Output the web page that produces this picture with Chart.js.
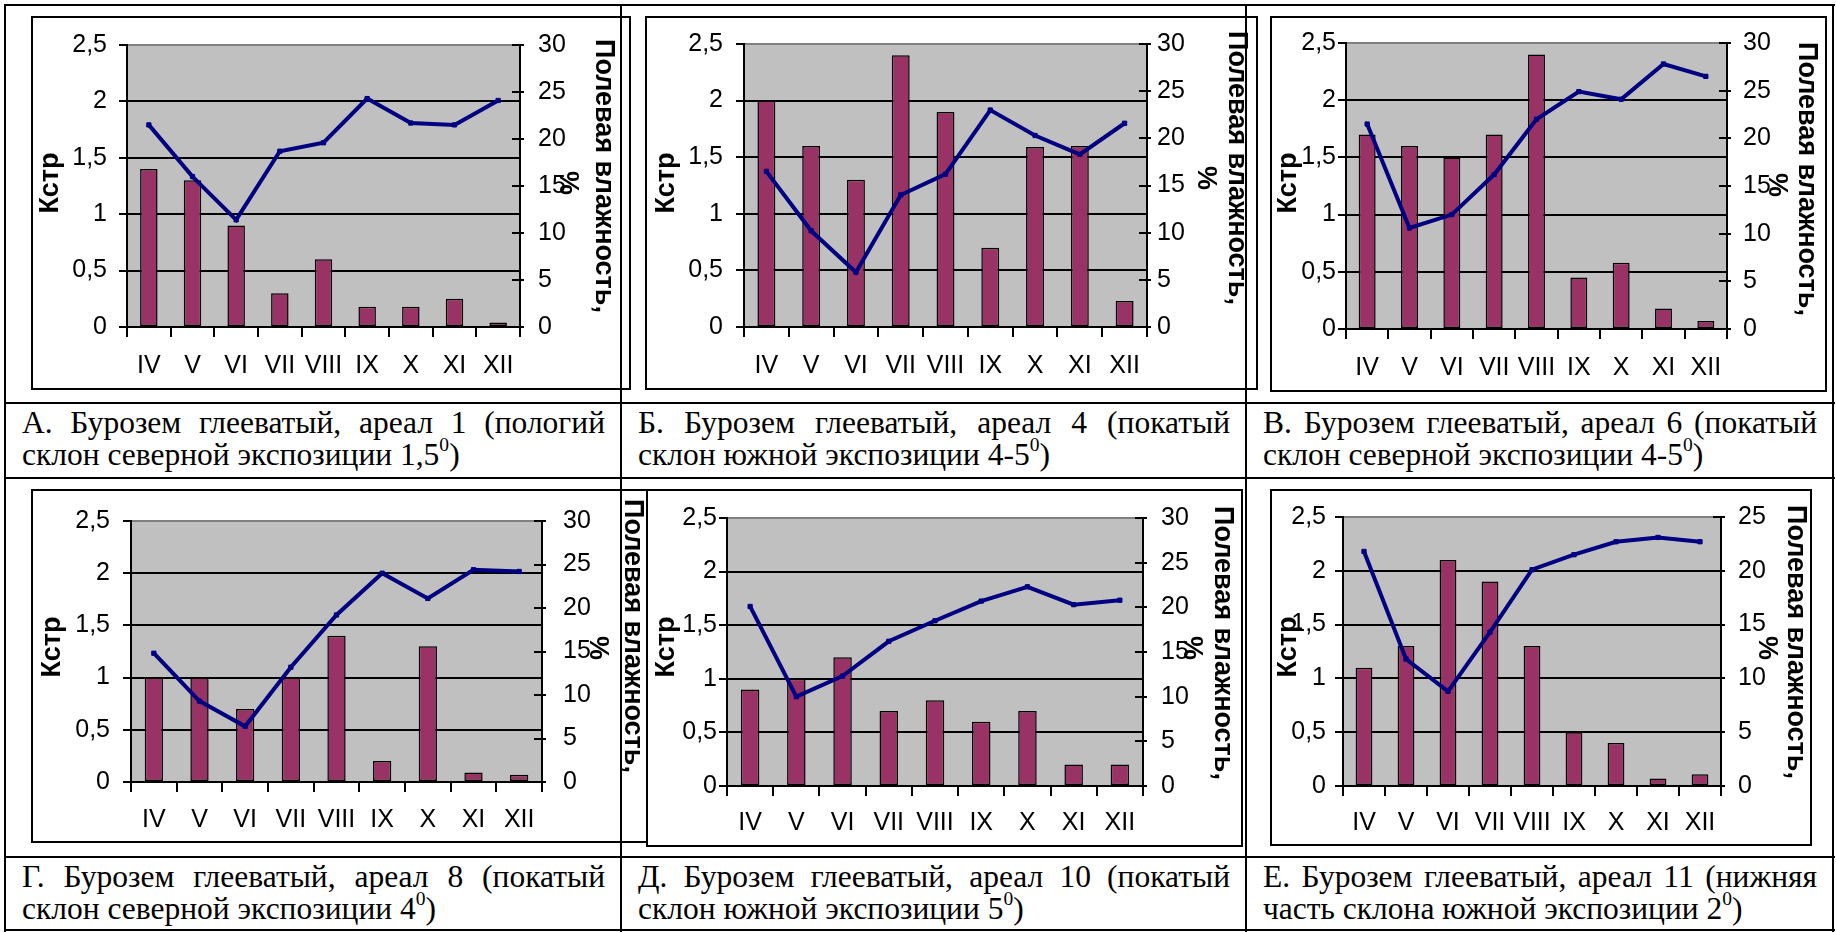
<!DOCTYPE html>
<html lang="ru">
<head>
<meta charset="UTF-8">
<title>Кстр и полевая влажность</title>
<script src="https://cdn.jsdelivr.net/npm/chart.js"></script>
<style>
    body { margin: 0; background: #fff; }
    #page { position: relative; width: 1836px; height: 932px; overflow: hidden; background: #fff; }
    .frame { position: absolute; box-sizing: border-box; border: 2px solid #000; background: #fff; }
    canvas.chart { position: absolute; }
    .line { position: absolute; background: #000; z-index: 10; }
    .caption { position: absolute; z-index: 5; font-family: "Liberation Serif", "Times New Roman", serif;
               font-size: 31.5px; line-height: 32px; color: #000; box-sizing: border-box; padding: 0 15px 0 16px; }
    .caption .l1 { text-align: justify; text-align-last: justify; white-space: nowrap; }
    .caption .l2 { white-space: nowrap; }
    .caption sup { font-size: 0.62em; line-height: 0; vertical-align: 0.7em; }
</style>
</head>
<body>
<div id="page"></div>
<script>
// месяцы
const months = ['IV', 'V', 'VI', 'VII', 'VIII', 'IX', 'X', 'XI', 'XII'];

// Кстр (столбцы) и полевая влажность, % (линия) по ареалам
const kstrA  = [1.4, 1.3, 0.9, 0.3, 0.6, 0.18, 0.18, 0.25, 0.04];
const moistA = [21.5, 16.0, 11.4, 18.7, 19.6, 24.3, 21.7, 21.5, 24.1];

const kstrB  = [2.0, 1.6, 1.3, 2.4, 1.9, 0.7, 1.59, 1.6, 0.23];
const moistB = [16.5, 10.2, 5.8, 14.0, 16.2, 23.0, 20.3, 18.3, 21.6];

const kstrC  = [1.7, 1.6, 1.5, 1.7, 2.4, 0.45, 0.58, 0.18, 0.07];
const moistC = [21.5, 10.6, 12.0, 16.2, 22.0, 24.9, 24.1, 27.8, 26.5];

const kstrD  = [1.0, 1.0, 0.7, 1.0, 1.4, 0.2, 1.3, 0.09, 0.07];
const moistD = [14.8, 9.3, 6.4, 13.2, 19.2, 24.0, 21.1, 24.4, 24.2];

const kstrE  = [0.9, 1.0, 1.2, 0.7, 0.8, 0.6, 0.7, 0.2, 0.2];
const moistE = [20.1, 10.0, 12.3, 16.2, 18.5, 20.7, 22.3, 20.3, 20.8];

const kstrF  = [1.1, 1.3, 2.1, 1.9, 1.3, 0.5, 0.4, 0.07, 0.11];
const moistF = [21.8, 11.8, 8.8, 14.3, 20.1, 21.5, 22.7, 23.1, 22.7];

// максимум правой оси
const moistMax = [30, 30, 30, 30, 30, 25];

// подписи осей
const leftTitle = 'Кстр';
const rightTitle1 = 'Полевая влажность,';
const rightTitle2 = '%';

// подписи под графиками (две строки)
const captionLine1 = [
    'А. Бурозем глееватый, ареал 1 (пологий',
    'Б. Бурозем глееватый, ареал 4 (покатый',
    'В. Бурозем глееватый, ареал 6 (покатый',
    'Г. Бурозем глееватый, ареал 8 (покатый',
    'Д. Бурозем глееватый, ареал 10 (покатый',
    'Е. Бурозем глееватый, ареал 11 (нижняя'
];
const captionLine2 = [
    'склон северной экспозиции 1,5<sup>0</sup>)',
    'склон южной экспозиции 4-5<sup>0</sup>)',
    'склон северной экспозиции 4-5<sup>0</sup>)',
    'склон северной экспозиции 4<sup>0</sup>)',
    'склон южной экспозиции 5<sup>0</sup>)',
    'часть склона южной экспозиции 2<sup>0</sup>)'
];

const kstrSeries = [kstrA, kstrB, kstrC, kstrD, kstrE, kstrF];
const moistSeries = [moistA, moistB, moistC, moistD, moistE, moistF];

// расположение рамок и областей построения (px)
const layouts = [
    { fx: 31,   fy: 16,  fw: 600, fh: 374, top: 24, yW: 96, y1W: 111, xH: 63, yPad: 12, y1Pad: 14, xPad: 14, kstr: [20, 167], t1: [572, 160], t2: [536, 167] },
    { fx: 645,  fy: 16,  fw: 613, fh: 374, top: 24, yW: 99, y1W: 111, xH: 63, yPad: 13, y1Pad: 6,  xPad: 14, kstr: [22, 167], t1: [591, 152], t2: [560, 162] },
    { fx: 1270, fy: 16,  fw: 557, fh: 376, top: 24, yW: 76, y1W: 100, xH: 63, yPad: 2,  y1Pad: 12, xPad: 14, kstr: [19, 167], t1: [536, 163], t2: [506, 169] },
    { fx: 31,   fy: 489, fw: 629, fh: 354, top: 23, yW: 100, y1W: 118, xH: 61, yPad: 13, y1Pad: 17, xPad: 13, kstr: [22, 158], t1: [601, 147], t2: [566, 159] },
    { fx: 646,  fy: 489, fw: 597, fh: 358, top: 23, yW: 81, y1W: 100, xH: 61, yPad: 2,  y1Pad: 14, xPad: 12, kstr: [21, 158], t1: [576, 154], t2: [545, 159] },
    { fx: 1270, fy: 489, fw: 542, fh: 357, top: 23, yW: 73, y1W: 91,  xH: 60, yPad: 9,  y1Pad: 13, xPad: 12, kstr: [19, 158], t1: [525, 153], t2: [496, 159] }
];

Chart.defaults.font.family = '"Liberation Sans", Arial, sans-serif';
Chart.defaults.color = '#000';

// серый фон, внутренние засечки правой оси, повернутые подписи осей
const extras = {
    id: 'extras',
    beforeDraw(chart) {
        const { ctx, chartArea: a } = chart;
        ctx.save();
        ctx.fillStyle = '#C0C0C0';
        ctx.fillRect(a.left, a.top, a.width, a.height);
        ctx.restore();
    },
    afterDatasetsDraw(chart) {
        // подписи месяцев (ось x рисуется после столбцов) - плотнее
        chart.ctx.letterSpacing = '-2px';
    },
    afterDraw(chart, args, opts) {
        const { ctx, chartArea: a } = chart;
        ctx.letterSpacing = '0px';
        const y1 = chart.scales.y1;
        ctx.save();
        ctx.strokeStyle = '#000';
        ctx.lineWidth = 2;
        y1.ticks.forEach((t, i) => {
            const py = Math.round(y1.getPixelForTick(i));
            ctx.beginPath();
            ctx.moveTo(a.right - 8, py);
            ctx.lineTo(a.right, py);
            ctx.stroke();
        });
        ctx.fillStyle = '#000';
        ctx.font = 'bold 27px "Liberation Sans", Arial, sans-serif';
        ctx.textAlign = 'center';
        ctx.textBaseline = 'middle';
        const rot = (text, pos, angle) => {
            ctx.save();
            ctx.translate(pos[0], pos[1]);
            ctx.rotate(angle);
            ctx.fillText(text, 0, 0);
            ctx.restore();
        };
        rot(leftTitle, opts.kstr, -Math.PI / 2);
        rot(rightTitle1, opts.t1, Math.PI / 2);
        rot(rightTitle2, opts.t2, Math.PI / 2);
        ctx.restore();
    }
};

const page = document.getElementById('page');

layouts.forEach((L, i) => {
    const frame = document.createElement('div');
    frame.className = 'frame';
    Object.assign(frame.style, { left: L.fx + 'px', top: L.fy + 'px', width: L.fw + 'px', height: L.fh + 'px' });
    page.appendChild(frame);

    const cv = document.createElement('canvas');
    cv.className = 'chart';
    cv.width = L.fw;
    cv.height = L.fh;
    Object.assign(cv.style, { left: L.fx + 'px', top: L.fy + 'px', width: L.fw + 'px', height: L.fh + 'px' });
    page.appendChild(cv);

    new Chart(cv, {
        data: {
            labels: months,
            datasets: [
                {
                    type: 'line',
                    data: moistSeries[i],
                    yAxisID: 'y1',
                    borderColor: '#000080',
                    borderWidth: 4,
                    pointStyle: 'rect',
                    pointRadius: 3,
                    pointBackgroundColor: '#000080',
                    pointBorderColor: '#000080',
                    pointBorderWidth: 1,
                    tension: 0,
                    order: 0
                },
                {
                    type: 'bar',
                    data: kstrSeries[i],
                    yAxisID: 'y',
                    backgroundColor: '#993366',
                    borderColor: '#000',
                    borderWidth: 1.5,
                    borderSkipped: false,
                    barPercentage: 0.4,
                    categoryPercentage: 1,
                    order: 1
                }
            ]
        },
        options: {
            responsive: false,
            animation: false,
            events: [],
            layout: { padding: { top: L.top, left: 0, right: 0, bottom: 0 } },
            plugins: {
                legend: { display: false },
                tooltip: { enabled: false },
                extras: { kstr: L.kstr, t1: L.t1, t2: L.t2 }
            },
            scales: {
                x: {
                    z: 1,
                    offset: true,
                    grid: { offset: true, drawOnChartArea: false, tickLength: 10, color: '#000', lineWidth: 2 },
                    border: { color: '#000', width: 2 },
                    ticks: { font: { size: 25 }, padding: L.xPad, maxRotation: 0, autoSkip: false },
                    afterFit: s => { s.height = L.xH; }
                },
                y: {
                    position: 'left',
                    min: 0,
                    max: 2.5,
                    grid: {
                        color: c => (c.tick && c.tick.value === 2.5 ? '#808080' : '#000'),
                        tickColor: '#000',
                        lineWidth: 2,
                        tickLength: 8
                    },
                    border: { color: '#000', width: 2 },
                    ticks: {
                        stepSize: 0.5,
                        font: { size: 25 },
                        padding: L.yPad,
                        callback: v => String(v).replace('.', ',')
                    },
                    afterFit: s => { s.width = L.yW; }
                },
                y1: {
                    position: 'right',
                    min: 0,
                    max: moistMax[i],
                    grid: { drawOnChartArea: false, tickLength: 4, color: '#000', lineWidth: 2 },
                    border: { color: '#000', width: 2 },
                    ticks: { stepSize: 5, font: { size: 25 }, padding: L.y1Pad },
                    afterFit: s => { s.width = L.y1W; }
                }
            }
        },
        plugins: [extras]
    });
});

// подписи (ячейки таблицы)
const colEdges = [5, 621, 1246, 1833];
const rowTops = [403, 857];
captionLine1.forEach((t, i) => {
    const col = i % 3, row = Math.floor(i / 3);
    const c = document.createElement('div');
    c.className = 'caption';
    Object.assign(c.style, {
        left: (colEdges[col] + 1) + 'px',
        top: (rowTops[row] + 4) + 'px',
        width: (colEdges[col + 1] - colEdges[col] - 2) + 'px'
    });
    c.innerHTML = '<div class="l1">' + t + '</div><div class="l2">' + captionLine2[i] + '</div>';
    page.appendChild(c);
});

// линии таблицы
const hLines = [5, 403, 478, 857, 930];
const vLines = [5, 621, 1246, 1833];
hLines.forEach(y => {
    const d = document.createElement('div');
    d.className = 'line';
    Object.assign(d.style, { left: '4px', top: (y - 1) + 'px', width: '1831px', height: '2px' });
    page.appendChild(d);
});
vLines.forEach(x => {
    const d = document.createElement('div');
    d.className = 'line';
    Object.assign(d.style, { left: (x - 1) + 'px', top: '4px', width: '2px', height: '928px' });
    page.appendChild(d);
});
</script>
</body>
</html>
